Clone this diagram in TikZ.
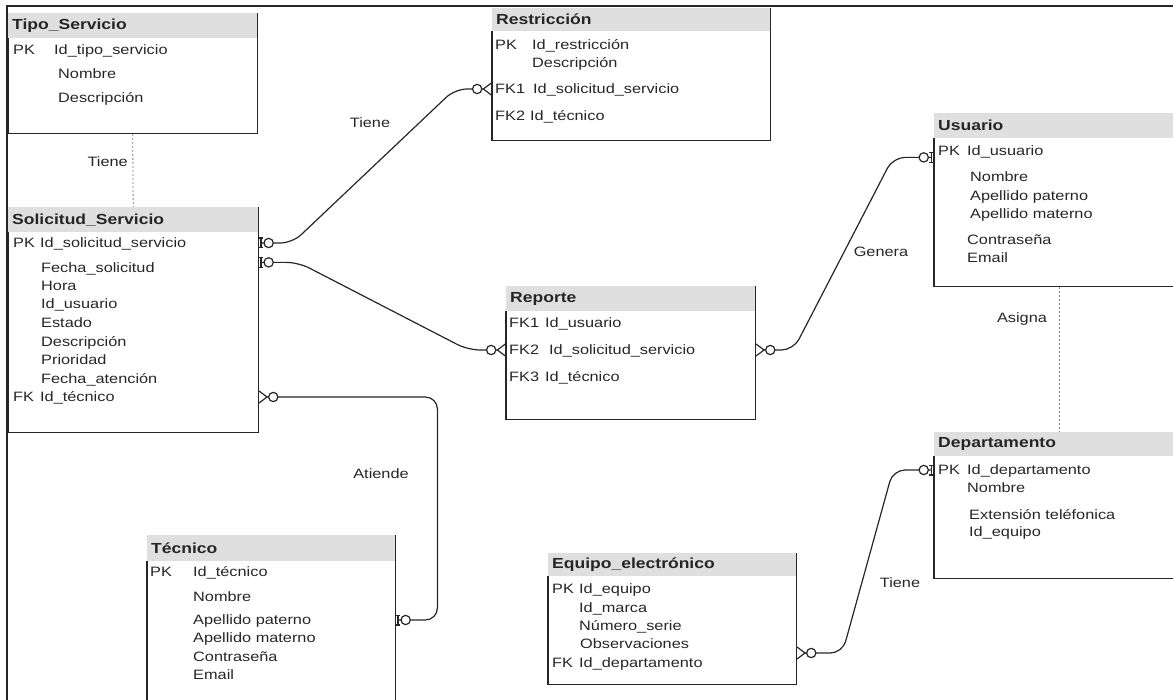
\documentclass[tikz,border=0pt]{standalone}
\usepackage{fontspec}
\setmainfont{Liberation Sans}[FakeStretch=1.2]
\usetikzlibrary{arrows.meta,calc}
\newcommand\tamfila{\fontsize{13.6}{16}\selectfont}
\newcommand\tamtitulo{\fontsize{14.6}{17}\selectfont\bfseries}
\begin{document}
\begin{tikzpicture}[x=1pt,y=-1pt]

% definitions
\tikzstyle{titulo} = [anchor=north west, fill=gray!25, inner xsep=4pt, inner ysep=0pt, font=\tamtitulo, text=black!85]
\tikzstyle{cuerpo} = [anchor=north west, inner sep=0pt]
\tikzstyle{borde} = [draw=black!85, line width=1.2pt]
\tikzstyle{campo} = [anchor=west, inner sep=0pt, text height=10pt, text depth=1pt, font=\tamfila, text=black!85]
\tikzstyle{etiqueta} = [inner sep=0pt, font=\tamfila, text=black!85]
\tikzstyle{punteado} = [draw=gray, line width=0.8pt, dash pattern=on 2pt off 2pt]
\tikzstyle{relacion} = [draw=black!85, line width=1.2pt, rounded corners=12pt]
\tikzstyle{unoamuchos} = [{Tee Barb[reversed,length=5pt,width=11pt] Circle[open,fill=white,length=10.5pt]}-{Circle[open,fill=white,length=10.5pt] Straight Barb[reversed,length=8pt,width=12pt]}]
\tikzstyle{muchosauno} = [{Straight Barb[reversed,length=8pt,width=12pt] Circle[open,fill=white,length=10.5pt]}-{Circle[open,fill=white,length=10.5pt] Tee Barb[reversed,length=5pt,width=11pt]}]

\useasboundingbox (0,0) rectangle (1173,700);
\clip (0,0) rectangle (1173,700);

% frame
\draw [borde] (7,700) -- (7,6) -- (1173,6);

% Tipo_Servicio
\node (tipo) [titulo, text width=241, minimum height=25] at (8,13) {Tipo\_Servicio};
\node (tipob) [cuerpo, minimum width=249, minimum height=95] at (tipo.south west) {};
\draw [borde] (tipob.north west) -- (tipob.south west) -- (tipob.south east) -- (tipo.north east);
\node (tipo1) [campo] at (13,50) {PK};
\node (tipo2) [campo] at (54,50) {Id\_tipo\_servicio};
\node (tipo3) [campo] at (58,74) {Nombre};
\node (tipo4) [campo] at (58,98) {Descripción};

% Solicitud_Servicio
\node (sol) [titulo, text width=242, minimum height=25] at (8,207) {Solicitud\_Servicio};
\node (solb) [cuerpo, minimum width=250, minimum height=200] at (sol.south west) {};
\draw [borde] (solb.north west) -- (solb.south west) -- (solb.south east) -- (sol.north east);
\node (sol1) [campo] at (13,243) {PK};
\node (sol2) [campo] at (40,243) {Id\_solicitud\_servicio};
\node (sol3) [campo] at (41,268) {Fecha\_solicitud};
\node (sol4) [campo] at (41,286) {Hora};
\node (sol5) [campo] at (41,304) {Id\_usuario};
\node (sol6) [campo] at (41,323) {Estado};
\node (sol7) [campo] at (41,342) {Descripción};
\node (sol8) [campo] at (41,360) {Prioridad};
\node (sol9) [campo] at (41,379) {Fecha\_atención};
\node (sol10) [campo] at (13,397) {FK};
\node (sol11) [campo] at (40,397) {Id\_técnico};

% Restriccion
\node (res) [titulo, text width=270, minimum height=23] at (492,8) {Restricción};
\node (resb) [cuerpo, minimum width=278, minimum height=109] at (res.south west) {};
\draw [borde] (resb.north west) -- (resb.south west) -- (resb.south east) -- (res.north east);
\node (res1) [campo] at (495,45) {PK};
\node (res2) [campo] at (532,45) {Id\_restricción};
\node (res3) [campo] at (532,63) {Descripción};
\node (res4) [campo] at (495,89) {FK1};
\node (res5) [campo] at (533,89) {Id\_solicitud\_servicio};
\node (res6) [campo] at (495,116) {FK2};
\node (res7) [campo] at (530,116) {Id\_técnico};

% Reporte
\node (rep) [titulo, text width=241, minimum height=25] at (506,286) {Reporte};
\node (repb) [cuerpo, minimum width=249, minimum height=108] at (rep.south west) {};
\draw [borde] (repb.north west) -- (repb.south west) -- (repb.south east) -- (rep.north east);
\node (rep1) [campo] at (509,323) {FK1};
\node (rep2) [campo] at (545,323) {Id\_usuario};
\node (rep3) [campo] at (509,350) {FK2};
\node (rep4) [campo] at (549,350) {Id\_solicitud\_servicio};
\node (rep5) [campo] at (509,377) {FK3};
\node (rep6) [campo] at (545,377) {Id\_técnico};

% Usuario
\node (usu) [titulo, text width=242, minimum height=25] at (934,113) {Usuario};
\node (usub) [cuerpo, minimum width=250, minimum height=148] at (usu.south west) {};
\draw [borde] (usub.north west) -- (usub.south west) -- (usub.south east) -- (usu.north east);
\node (usu1) [campo] at (938,151) {PK};
\node (usu2) [campo] at (967,151) {Id\_usuario};
\node (usu3) [campo] at (970,177) {Nombre};
\node (usu4) [campo] at (970,196) {Apellido paterno};
\node (usu5) [campo] at (970,214) {Apellido materno};
\node (usu6) [campo] at (967,240) {Contraseña};
\node (usu7) [campo] at (967,258) {Email};

% Departamento
\node (dep) [titulo, text width=242, minimum height=24] at (934,432) {Departamento};
\node (depb) [cuerpo, minimum width=250, minimum height=122] at (dep.south west) {};
\draw [borde] (depb.north west) -- (depb.south west) -- (depb.south east) -- (dep.north east);
\node (dep1) [campo] at (938,470) {PK};
\node (dep2) [campo] at (967,470) {Id\_departamento};
\node (dep3) [campo] at (967,488) {Nombre};
\node (dep4) [campo] at (969,515) {Extensión teléfonica};
\node (dep5) [campo] at (969,532) {Id\_equipo};

% Equipo_electronico
\node (equ) [titulo, text width=240, minimum height=23] at (548,553) {Equipo\_electrónico};
\node (equb) [cuerpo, minimum width=248, minimum height=108] at (equ.south west) {};
\draw [borde] (equb.north west) -- (equb.south west) -- (equb.south east) -- (equ.north east);
\node (equ1) [campo] at (552,589) {PK};
\node (equ2) [campo] at (579,589) {Id\_equipo};
\node (equ3) [campo] at (579,608) {Id\_marca};
\node (equ4) [campo] at (579,626) {Número\_serie};
\node (equ5) [campo] at (580,644) {Observaciones};
\node (equ6) [campo] at (552,663) {FK};
\node (equ7) [campo] at (579,663) {Id\_departamento};

% Tecnico
\node (tec) [titulo, text width=240, minimum height=26] at (147,535) {Técnico};
\node (tecb) [cuerpo, minimum width=248, minimum height=159] at (tec.south west) {};
\draw [borde] (tecb.north west) -- (tecb.south west) -- (tecb.south east) -- (tec.north east);
\node (tec1) [campo] at (150,572) {PK};
\node (tec2) [campo] at (193,572) {Id\_técnico};
\node (tec3) [campo] at (193,597) {Nombre};
\node (tec4) [campo] at (193,620) {Apellido paterno};
\node (tec5) [campo] at (193,638) {Apellido materno};
\node (tec6) [campo] at (193,657) {Contraseña};
\node (tec7) [campo] at (193,675) {Email};

% relations
\draw [punteado] (tipob.south) -- (sol.north);
\draw [punteado] (usub.south) -- (dep.north);
\draw [relacion, unoamuchos] (solb.east |- sol1) -- ++(34,0) -- ($(resb.west |- res4)+(-37,0)$) -- (resb.west |- res4);
\draw [relacion, unoamuchos] ($(solb.north east)+(0,30)$) -- ++(40,0) -- ($(repb.west |- rep3)+(-38,0)$) -- (repb.west |- rep3);
\draw [relacion, muchosauno] (solb.east |- sol10) -- ++(179,0) -- ($(tecb.east |- tec4)+(42,0)$) -- (tecb.east |- tec4);
\draw [relacion, muchosauno] (repb.east |- rep3) -- ++(38,0) -- ($(usub.north west)+(-41,19)$) -- ($(usub.north west)+(0,19)$);
\draw [relacion, muchosauno] ($(equb.east |- equ6)+(0,-10)$) -- ++(46,0) -- ($(depb.west |- dep1)+(-41,0)$) -- (depb.west |- dep1);

% labels
\node (l1) [etiqueta, anchor=east] at (128,162) {Tiene};
\node (l2) [etiqueta] at (370,123) {Tiene};
\node (l3) [etiqueta] at (881,252) {Genera};
\node (l4) [etiqueta] at (381,474) {Atiende};
\node (l5) [etiqueta] at (1022,319) {Asigna};
\node (l6) [etiqueta] at (900,583) {Tiene};

\end{tikzpicture}
\end{document}
